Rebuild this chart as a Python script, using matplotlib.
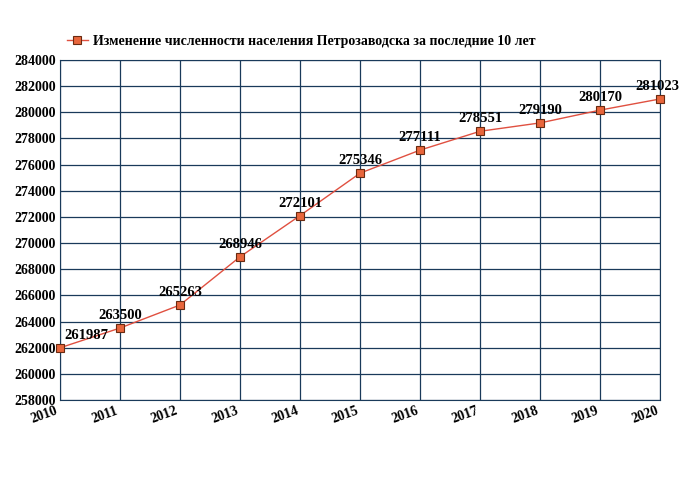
import matplotlib
matplotlib.use('Agg')
import matplotlib.pyplot as plt

years = [2010, 2011, 2012, 2013, 2014, 2015, 2016, 2017, 2018, 2019, 2020]
population = [261987, 263500, 265263, 268946, 272101, 275346, 277111, 278551, 279190, 280170, 281023]
y_ticks = list(range(258000, 284001, 2000))

plt.rcParams['font.family'] = 'Liberation Serif'

fig = plt.figure(figsize=(6.8, 5), dpi=100)
ax = fig.add_axes([0.088, 0.2, 0.883, 0.68])

ax.plot(years, population, color='#e05040', lw=1, marker='s', markersize=6,
        markerfacecolor='#e8663c', markeredgecolor='#6a2a10', markeredgewidth=0.8,
        label='Изменение численности населения Петрозаводска за последние 10 лет',
        clip_on=False, zorder=3)

for i, (x, y) in enumerate(zip(years, population)):
    if i == 0:
        xx, ha = x + 0.07, 'left'
    elif i == len(years) - 1:
        xx, ha = x - 0.05, 'center'
    else:
        xx, ha = x, 'center'
    ax.text(xx, y + 450, str(y), fontsize=10.5, fontweight='bold', ha=ha, va='bottom')

ax.set_xlim(2010, 2020)
ax.set_ylim(258000, 284000)
ax.set_xticks(years)
ax.set_yticks(y_ticks)
ax.set_xticklabels([str(y) for y in years], rotation=20, ha='right',
                   fontsize=10, fontweight='bold')
ax.set_yticklabels([str(v) for v in y_ticks], fontsize=10, fontweight='bold')
ax.tick_params(length=0, pad=3)
ax.grid(True, color='#1a3a5a', lw=0.9)
for s in ax.spines.values():
    s.set_color('#1a3a5a')
ax.set_axisbelow(True)

fig.legend(loc='upper left', bbox_to_anchor=(0.08, 0.955), frameon=False,
           prop={'size': 10, 'weight': 'bold'}, handlelength=1.5, handletextpad=0.4)

fig.savefig('out.png', dpi=100)
